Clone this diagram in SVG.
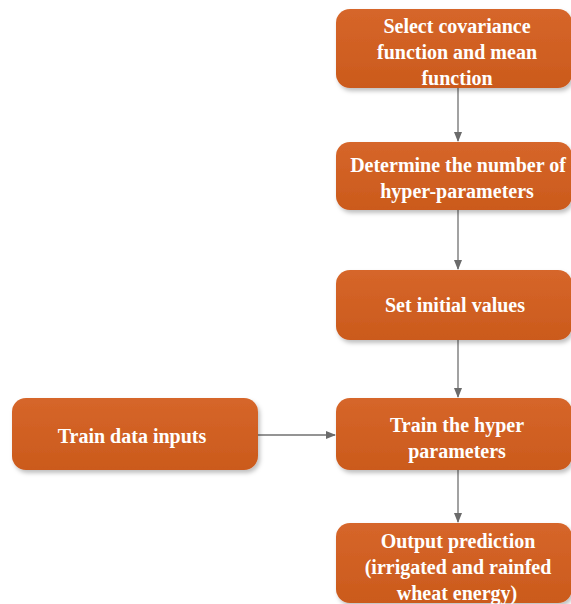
<svg xmlns="http://www.w3.org/2000/svg" width="571" height="604" viewBox="0 0 571 604">
<defs>
<linearGradient id="g" x1="0" y1="0" x2="0" y2="1">
<stop offset="0" stop-color="#D6662A"/>
<stop offset="1" stop-color="#CB5A1C"/>
</linearGradient>
<filter id="sh" x="-10%" y="-10%" width="120%" height="130%">
<feDropShadow dx="2" dy="3" stdDeviation="2" flood-color="#000" flood-opacity="0.25"/>
</filter>
<marker id="ah" markerWidth="10" markerHeight="10" refX="9" refY="5" orient="auto" markerUnits="userSpaceOnUse">
<path d="M0,1 L10,5 L0,9 z" fill="#6b6b6b"/>
</marker>
</defs>
<style>
.box{fill:url(#g);filter:url(#sh)}
.t{font-family:"Liberation Serif",serif;font-weight:bold;font-size:20px;fill:#fff;text-anchor:middle}
.c{stroke:#707070;stroke-width:1.3;fill:none;marker-end:url(#ah)}
</style>
<rect width="571" height="604" fill="#fff"/>
<g id="connectors">
<line class="c" x1="458" y1="88" x2="458" y2="141"/>
<line class="c" x1="458" y1="210" x2="458" y2="269"/>
<line class="c" x1="458" y1="340" x2="458" y2="397"/>
<line class="c" x1="458" y1="470" x2="458" y2="522"/>
<line class="c" x1="258" y1="435" x2="335" y2="435"/>
</g>
<g id="n1"><rect class="box" x="336" y="9" width="236" height="79" rx="14"/>
<text class="t" x="457" y="33">Select covariance</text><text class="t" x="457" y="59">function and mean</text><text class="t" x="457" y="85">function</text></g>
<g id="n2"><rect class="box" x="336" y="142" width="236" height="68" rx="14"/>
<text class="t" x="458" y="172">Determine the number of</text><text class="t" x="457" y="198">hyper-parameters</text></g>
<g id="n3"><rect class="box" x="336" y="270" width="236" height="70" rx="14"/>
<text class="t" x="455" y="312">Set initial values</text></g>
<g id="n4"><rect class="box" x="336" y="398" width="236" height="72" rx="14"/>
<text class="t" x="457" y="432">Train the hyper</text><text class="t" x="457" y="458">parameters</text></g>
<g id="n5"><rect class="box" x="336" y="523" width="236" height="80" rx="14"/>
<text class="t" x="458" y="548">Output prediction</text><text class="t" x="458" y="574">(irrigated and rainfed</text><text class="t" x="457" y="600">wheat energy)</text></g>
<g id="n6"><rect class="box" x="12" y="398" width="246" height="72" rx="14"/>
<text class="t" x="132" y="443">Train data inputs</text></g>
</svg>
